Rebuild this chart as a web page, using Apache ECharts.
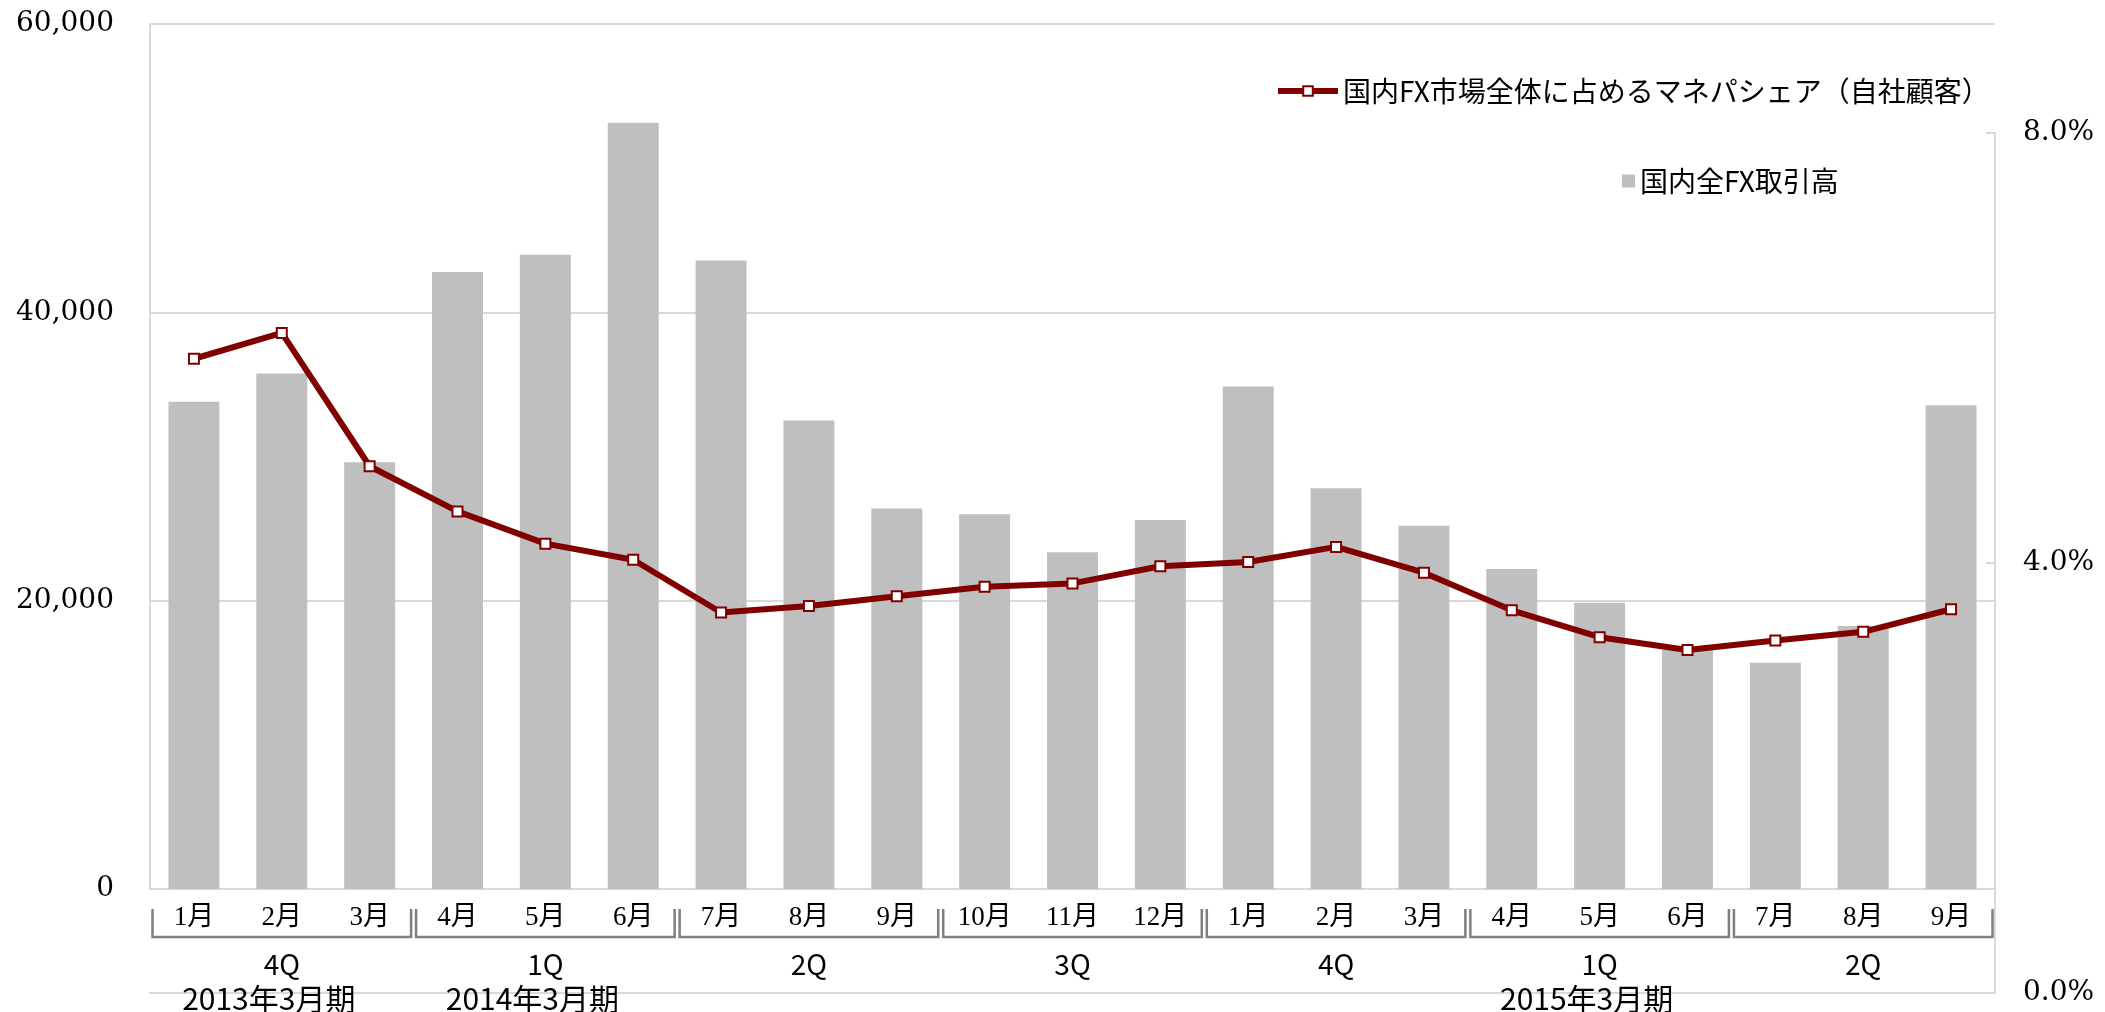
<!DOCTYPE html>
<html>
<head>
<meta charset="utf-8">
<script src="https://cdn.jsdelivr.net/npm/echarts@6/dist/echarts.min.js"></script>
<style>
  html, body { margin: 0; padding: 0; background: #fff; }
  #chart { width: 2105px; height: 1012px; }
</style>
</head>
<body>
<div id="chart"></div>
<script>
// Monthly categories (Jan 2013 – Sep 2014)
const months = ['1月','2月','3月','4月','5月','6月','7月','8月','9月','10月','11月','12月',
                '1月','2月','3月','4月','5月','6月','7月','8月','9月'];
// Quarter groups: each spans three months
const quarterLabels = ['4Q','1Q','2Q','3Q','4Q','1Q','2Q'];
const fiscalYearLabels = ['2013年3月期','2014年3月期','','','','2015年3月期',''];

// Domestic FX trading volume (bars, left axis)
const fxVolume = [33800, 35750, 29600, 42800, 44000, 53150, 43600, 32500, 26400, 26000, 23350,
                  25600, 34850, 27800, 25200, 22200, 19850, 16600, 15700, 18250, 33550];
// Market share of own clients, % (line, right axis)
const sharePct = [5.90, 6.14, 4.90, 4.48, 4.18, 4.03, 3.54, 3.60, 3.69, 3.78, 3.81,
                  3.97, 4.01, 4.15, 3.91, 3.56, 3.31, 3.19, 3.28, 3.36, 3.57];

// Axis ranges
const volumeAxis = { min: 0, max: 60000, step: 20000 };
const shareAxis = { min: 0, max: 8, step: 4 };

const NAME_SHARE = '国内FX市場全体に占めるマネパシェア（自社顧客）';
const NAME_VOLUME = '国内全FX取引高';

const GRID_LINE = '#d9d9d9';
const BAR_COLOR = '#bfbfbf';
const LINE_COLOR = '#800000';
const BRACKET = '#7f7f7f';
const NUM_FONT = '"DejaVu Serif", serif';
const MONTH_FONT = '"Liberation Serif", "Noto Sans CJK JP", serif';
const JP_FONT = '"Noto Sans CJK JP", sans-serif';

const chart = echarts.init(document.getElementById('chart'));

chart.setOption({
  animation: false,
  backgroundColor: '#fff',
  grid: [
    { left: 150, right: 110, top: 24, bottom: 123 },
    { left: 150, right: 110, top: 133, bottom: 19 }
  ],
  legend: [
    {
      data: [NAME_SHARE],
      left: 1275, top: 77, padding: 0,
      itemWidth: 60, itemHeight: 12,
      lineStyle: { color: LINE_COLOR, width: 6 },
      textStyle: { fontFamily: JP_FONT, fontSize: 28, color: '#000' }
    },
    {
      data: [{ name: NAME_VOLUME, icon: 'rect' }],
      left: 1622, top: 167, padding: 0,
      itemWidth: 13, itemHeight: 13,
      textStyle: { fontFamily: JP_FONT, fontSize: 28, color: '#000' }
    }
  ],
  xAxis: [
    {
      type: 'category', gridIndex: 0, data: months,
      axisLine: { show: true, lineStyle: { color: GRID_LINE, width: 2 } },
      axisTick: { show: false },
      axisLabel: { interval: 0, margin: 15, fontFamily: MONTH_FONT, fontSize: 27, color: '#000' }
    },
    {
      type: 'category', gridIndex: 1, data: months,
      axisLine: { show: true, lineStyle: { color: GRID_LINE, width: 2 } },
      axisTick: { show: false },
      axisLabel: { show: false }
    }
  ],
  yAxis: [
    {
      type: 'value', gridIndex: 0,
      min: volumeAxis.min, max: volumeAxis.max, interval: volumeAxis.step,
      axisLine: { show: true, lineStyle: { color: GRID_LINE, width: 2 } },
      axisTick: { show: false },
      splitLine: { show: true, lineStyle: { color: GRID_LINE, width: 2 } },
      axisLabel: {
        margin: 36, fontFamily: NUM_FONT, fontSize: 28, color: '#000',
        formatter: v => v.toLocaleString('en-US')
      }
    },
    {
      type: 'value', gridIndex: 1, position: 'right',
      min: shareAxis.min, max: shareAxis.max, interval: shareAxis.step,
      axisLine: { show: true, lineStyle: { color: GRID_LINE, width: 2 } },
      axisTick: { show: true, inside: true, length: 9, lineStyle: { color: GRID_LINE, width: 2 } },
      splitLine: { show: false },
      axisLabel: {
        margin: 28, fontFamily: NUM_FONT, fontSize: 28, color: '#000',
        formatter: v => v.toFixed(1) + '%'
      }
    }
  ],
  series: [
    {
      name: NAME_VOLUME, type: 'bar',
      xAxisIndex: 0, yAxisIndex: 0,
      data: fxVolume,
      barWidth: '58%',
      itemStyle: { color: BAR_COLOR },
      z: 2
    },
    {
      name: NAME_SHARE, type: 'line',
      xAxisIndex: 1, yAxisIndex: 1,
      data: sharePct,
      symbol: 'rect', symbolSize: 10,
      lineStyle: { color: LINE_COLOR, width: 6 },
      itemStyle: { color: '#fff', borderColor: LINE_COLOR, borderWidth: 2 },
      z: 5
    }
  ]
});

// Quarter brackets and group labels below the month axis
function drawGroups() {
  const c0 = chart.convertToPixel({ xAxisIndex: 0 }, 0);
  const c1 = chart.convertToPixel({ xAxisIndex: 0 }, 1);
  const w = c1 - c0;
  const start = c0 - w / 2;
  const elements = [];
  quarterLabels.forEach((q, g) => {
    const xl = start + g * 3 * w + 2.5;
    const xr = start + (g + 1) * 3 * w - 2.5;
    const xc = start + (g * 3 + 1.5) * w;
    elements.push({
      type: 'polyline', silent: true, z: 10,
      shape: { points: [[xl, 909], [xl, 937], [xr, 937], [xr, 909]] },
      style: { stroke: BRACKET, lineWidth: 2.5, fill: null }
    });
    elements.push({
      type: 'text', silent: true, z: 10,
      x: xc, y: 964,
      style: { text: q, fontFamily: JP_FONT, fontSize: 28, fill: '#000', align: 'center', verticalAlign: 'middle' }
    });
    if (fiscalYearLabels[g]) {
      elements.push({
        type: 'text', silent: true, z: 10,
        x: xc - 13, y: 999,
        style: { text: fiscalYearLabels[g], fontFamily: JP_FONT, fontSize: 30, fill: '#000', align: 'center', verticalAlign: 'middle' }
      });
    }
  });
  chart.setOption({ graphic: elements });
}
drawGroups();
</script>
</body>
</html>
